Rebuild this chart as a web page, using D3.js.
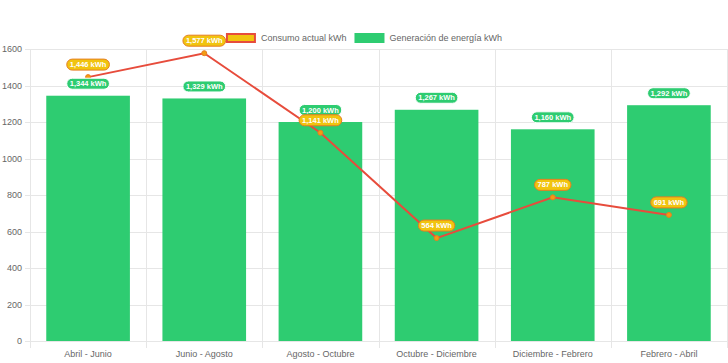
<!DOCTYPE html>
<html><head><meta charset="utf-8">
<script src="https://cdn.jsdelivr.net/npm/d3@7/dist/d3.min.js"></script>
<style>html,body{margin:0;padding:0;background:#fff}svg{display:block}</style>
</head><body>
<script>
const categories = ["Abril - Junio","Junio - Agosto","Agosto - Octubre","Octubre - Diciembre","Diciembre - Febrero","Febrero - Abril"];
const consumo = [1446, 1577, 1141, 564, 787, 691];
const generacion = [1344, 1329, 1200, 1267, 1160, 1292];
const yTicks = [0, 200, 400, 600, 800, 1000, 1200, 1400, 1600];
const legendLabels = ["Consumo actual kWh", "Generación de energía kWh"];

(function () {
const W = 728, H = 363;
const font = "'Liberation Sans', Arial, Helvetica, sans-serif";
const fs = "9px";
const svg = d3.select("body").append("svg").attr("width", W).attr("height", H)
  .style("font-family", font);

const pLeft = 30, pRight = 727, pTop = 49, pBottom = 341;
const x = d3.scaleBand().domain(categories).range([pLeft, pRight]).paddingInner(0).paddingOuter(0);
const y = d3.scaleLinear().domain([0, 1600]).range([pBottom, pTop]);
const grid = "#e6e6e6";

// horizontal grid
svg.append("g").selectAll("line").data(yTicks).join("line")
  .attr("x1", pLeft - 5).attr("x2", pRight)
  .attr("y1", d => Math.round(y(d)) + 0.5).attr("y2", d => Math.round(y(d)) + 0.5)
  .attr("stroke", grid).attr("stroke-width", 1);
// vertical grid
const bounds = categories.map(c => x(c)).concat([pRight]);
svg.append("g").selectAll("line").data(bounds).join("line")
  .attr("x1", d => Math.round(d) + 0.5).attr("x2", d => Math.round(d) + 0.5)
  .attr("y1", pTop).attr("y2", pBottom + 7)
  .attr("stroke", grid).attr("stroke-width", 1);

// y axis labels
const yAxis = d3.axisLeft(y).tickValues(yTicks).tickFormat(d3.format("d")).tickSize(0).tickPadding(0);
const gy = svg.append("g").attr("transform", `translate(${pLeft - 8},0)`).call(yAxis);
gy.select(".domain").remove();
gy.selectAll("text").attr("fill", "#666").style("font-size", fs).style("font-family", font);

// x axis labels
const xAxis = d3.axisBottom(x).tickSize(0).tickPadding(0);
const gx = svg.append("g").attr("transform", `translate(0,${pBottom + 10})`).call(xAxis);
gx.select(".domain").remove();
gx.selectAll("text").attr("fill", "#666").style("font-size", fs).style("font-family", font).attr("dy", "0.71em");

// bars
const bw = x.bandwidth() * 0.72;
svg.append("g").selectAll("rect").data(generacion).join("rect")
  .attr("x", (d, i) => x(categories[i]) + (x.bandwidth() - bw) / 2)
  .attr("width", bw)
  .attr("y", d => y(d)).attr("height", d => pBottom - y(d))
  .attr("fill", "#2ecc71");

// line
const cx = i => x(categories[i]) + x.bandwidth() / 2;
const line = d3.line().x((d, i) => cx(i)).y(d => y(d));
svg.append("path").datum(consumo).attr("d", line)
  .attr("fill", "none").attr("stroke", "#e74c3c").attr("stroke-width", 2);
svg.append("g").selectAll("circle").data(consumo).join("circle")
  .attr("cx", (d, i) => cx(i)).attr("cy", d => y(d)).attr("r", 2.5)
  .attr("fill", "#f39c12").attr("stroke", "#e67e22").attr("stroke-width", 1);

// labels
const fmt = d3.format(",");
function drawLabel(g, cxv, cyv, text, bg, border) {
  const grp = g.append("g");
  const t = grp.append("text").attr("x", cxv).attr("y", cyv).attr("text-anchor", "middle")
    .attr("dominant-baseline", "central").attr("fill", "#fff")
    .style("font-size", "7.5px").style("font-weight", "bold").style("font-family", font).text(text);
  const w = t.node().getComputedTextLength() + 6;
  grp.insert("rect", "text").attr("x", cxv - w / 2).attr("y", cyv - 5.5).attr("width", w).attr("height", 11)
    .attr("rx", 5.5).attr("fill", bg).attr("stroke", border).attr("stroke-width", 1);
}
const lg = svg.append("g");
generacion.forEach((d, i) => drawLabel(lg, cx(i), y(d) - 12, fmt(d) + " kWh", "#2ecc71", "#ffffff"));
consumo.forEach((d, i) => drawLabel(lg, cx(i), y(d) - 12.5, fmt(d) + " kWh", "#f1c40f", "#e67e22"));

// legend
const leg = svg.append("g");
const tmp = leg.append("text").style("font-size", fs).style("font-family", font);
const widths = legendLabels.map(s => { tmp.text(s); return tmp.node().getComputedTextLength(); });
tmp.remove();
const boxW = 30, gap = 5, itemGap = 8;
const total = widths.reduce((a, w) => a + boxW + gap + w, 0) + itemGap;
let lx = W / 2 - total / 2;
const legStyles = [{fill: "#f1c40f", stroke: "#e74c3c", sw: 2}, {fill: "#2ecc71", stroke: "#2ecc71", sw: 1}];
legendLabels.forEach((s, i) => {
  leg.append("rect").attr("x", lx + legStyles[i].sw / 2).attr("y", 33 + legStyles[i].sw / 2)
    .attr("width", boxW - legStyles[i].sw).attr("height", 10 - legStyles[i].sw)
    .attr("fill", legStyles[i].fill).attr("stroke", legStyles[i].stroke).attr("stroke-width", legStyles[i].sw);
  leg.append("text").attr("x", lx + boxW + gap).attr("y", 38).attr("dominant-baseline", "central")
    .attr("fill", "#666").style("font-size", fs).style("font-family", font).text(s);
  lx += boxW + gap + widths[i] + itemGap;
});
})();
</script>
</body></html>
